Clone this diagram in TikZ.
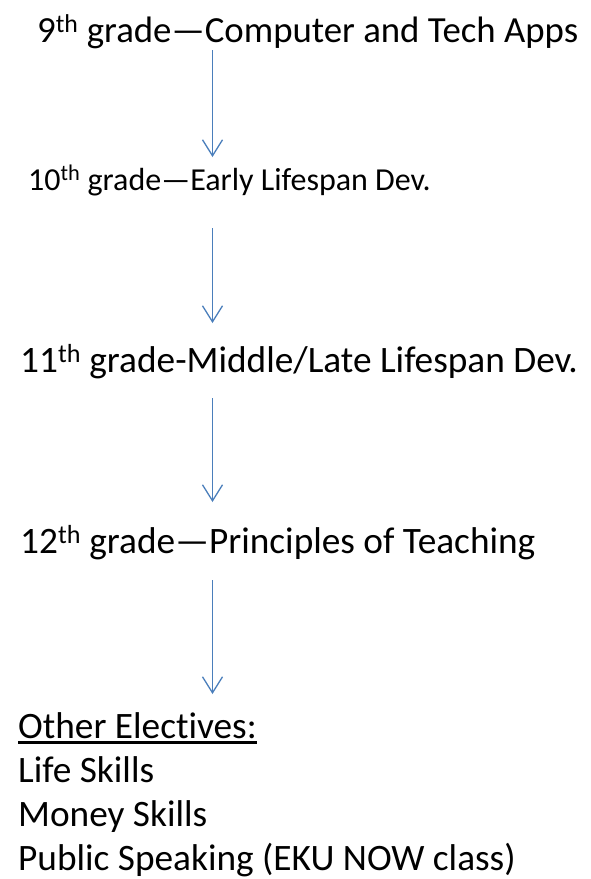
\documentclass[tikz,border=0pt]{standalone}
\usepackage{fontspec}
\setmainfont{Carlito}[RawFeature=-liga]
\usetikzlibrary{arrows.meta}
\definecolor{azul}{HTML}{4A7EBB}
\begin{document}
\begin{tikzpicture}[x=1pt, y=-1pt]
\tikzstyle{texto}=[anchor=base west, inner sep=0, font=\fontsize{37.3}{44}\selectfont]
\tikzstyle{seta}=[azul, line width=1.3pt, -{Straight Barb[length=16pt, width=20pt, line width=1.3pt]}]
\useasboundingbox(0,0)rectangle(591,879);
\node[texto, font=\fontsize{36.8}{44}\selectfont](g9)at(37,42){9\textsuperscript{th} grade—Computer and Tech Apps};
\node[texto, font=\fontsize{32}{38}\selectfont](g10)at(28,190){10\textsuperscript{th} grade—Early Lifespan Dev.};
\node[texto](g11)at(20,372){11\textsuperscript{th} grade-Middle/Late Lifespan Dev.};
\node[texto](g12)at(20,553){12\textsuperscript{th} grade—Principles of Teaching};
\node[texto](outras)at(18,738){Other Electives:};
\node[texto](vida)at(18,782){Life Skills};
\node[texto](dinheiro)at(18,826){Money Skills};
\node[texto](publico)at(18,870){Public Speaking (EKU NOW class)};
\draw[line width=2.6pt]([yshift=-4.5pt]outras.base west)--([yshift=-4.5pt]outras.base east);
\coordinate(a1)at(212.5,50);
\coordinate(b1)at(212.5,157);
\coordinate(a2)at(212.5,228);
\coordinate(b2)at(212.5,323);
\coordinate(a3)at(212.5,398);
\coordinate(b3)at(212.5,502);
\coordinate(a4)at(212.5,580);
\coordinate(b4)at(212.5,694);
\draw[seta](a1)--(b1);
\draw[seta](a2)--(b2);
\draw[seta](a3)--(b3);
\draw[seta](a4)--(b4);
\end{tikzpicture}
\end{document}
